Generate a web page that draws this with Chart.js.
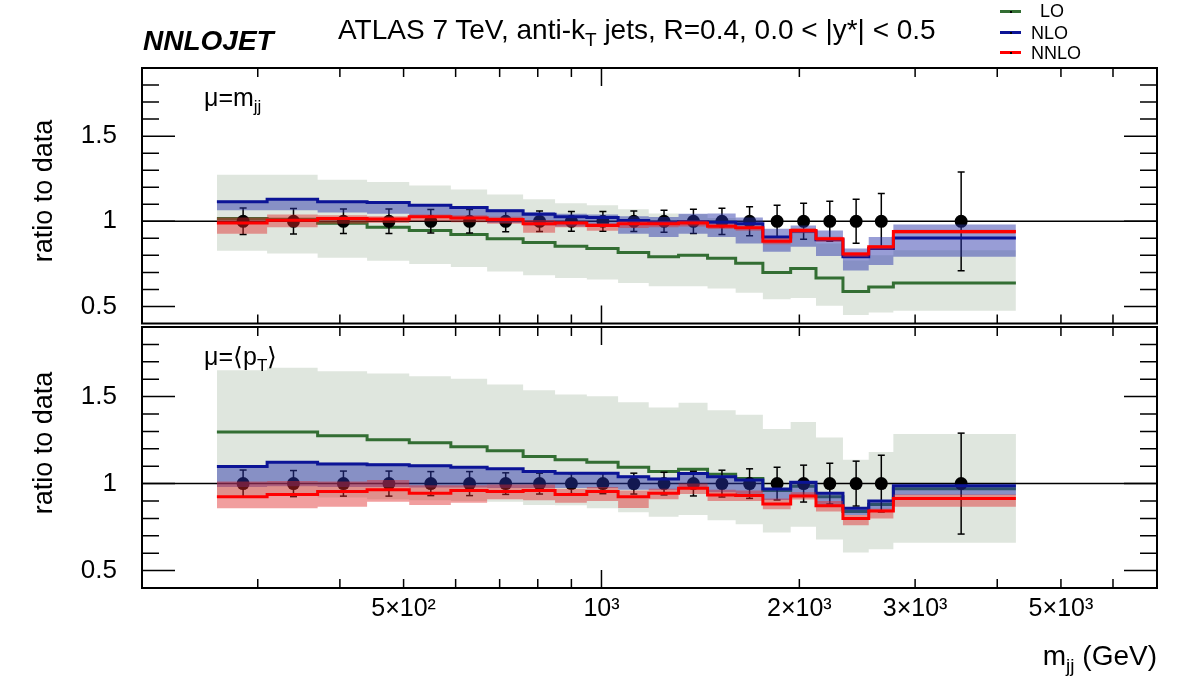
<!DOCTYPE html>
<html>
<head>
<meta charset="UTF-8">
<title>NNLOJET ATLAS 7 TeV dijet mass ratio to data</title>
<script src="https://cdn.jsdelivr.net/npm/chart.js"></script>
<style>
  body { margin: 0; background: #fff; font-family: "Liberation Sans", Arial, sans-serif; }
  #page { position: relative; width: 1182px; height: 692px; overflow: hidden; background: #fff; }
  canvas { position: absolute; left: 0; }
  #cTop { top: 0; }
  #cBot { top: 320px; }
  .txt { position: absolute; line-height: 1; white-space: nowrap; color: #000; z-index: 5; }
  .sub { position: relative; top: 0.38em; font-size: 0.68em; }
  .ytitle { transform: translate(-50%, -50%) rotate(-90deg); font-size: 27px; }
  .leg { position: absolute; left: 1000px; width: 21px; height: 3px; z-index: 5; }
  .leg i { position: absolute; left: 10px; top: 0.5px; width: 2px; height: 2px; background: #000; }
</style>
</head>
<body>
<div id="page">
  <canvas id="cTop" width="1182" height="330"></canvas>
  <canvas id="cBot" width="1182" height="372"></canvas>

  <div class="txt" style="left:143px; top:27px; font-size:28px; font-weight:bold; font-style:italic;">NNLOJET</div>
  <div class="txt" style="left:338px; top:16px; font-size:28px;">ATLAS 7 TeV, anti-k<span class="sub">T</span> jets, R=0.4, 0.0 &lt; |y*| &lt; 0.5</div>

  <div class="leg" style="top:10px; background:#336e33;"><i></i></div>
  <div class="txt" style="left:1040px; top:2px; font-size:18px;">LO</div>
  <div class="leg" style="top:31px; background:#0c1496;"><i></i></div>
  <div class="txt" style="left:1031px; top:24px; font-size:18px;">NLO</div>
  <div class="leg" style="top:51px; background:#ff0000;"><i></i></div>
  <div class="txt" style="left:1031px; top:44px; font-size:18px;">NNLO</div>

  <div class="txt" style="left:204px; top:85px; font-size:25px;">&mu;=m<span class="sub">jj</span></div>
  <div class="txt" style="left:204px; top:344px; font-size:25px;">&mu;=&#10216;p<span class="sub">T</span>&#10217;</div>

  <div class="txt ytitle" style="left:43px; top:191px;">ratio to data</div>
  <div class="txt ytitle" style="left:43px; top:443px;">ratio to data</div>

  <div class="txt" style="right:25px; top:642px; font-size:28px;">m<span class="sub">jj</span> (GeV)</div>
</div>

<script>
  // bin edges in m_jj (GeV)
  const binEdges = [260, 310, 370, 440, 510, 590, 670, 760, 850, 950, 1060, 1180, 1310, 1450, 1600, 1760, 1940, 2120, 2330, 2550, 2780, 4270];
  // data points (ratio = 1) at bin centres
  const dataX = [285, 340, 405, 475, 550, 630, 715, 805, 900, 1005, 1120, 1245, 1380, 1525, 1680, 1850, 2030, 2225, 2440, 2665, 3525];
  const dataErr = [0.078, 0.075, 0.072, 0.072, 0.069, 0.069, 0.062, 0.060, 0.058, 0.058, 0.060, 0.065, 0.071, 0.077, 0.085, 0.094, 0.106, 0.117, 0.129, 0.163, 0.290];

  // upper panel, mu = m_jj
  const loMjj      = [1.017, 1.012, 0.988, 0.965, 0.946, 0.923, 0.898, 0.875, 0.854, 0.840, 0.817, 0.792, 0.800, 0.783, 0.754, 0.700, 0.723, 0.667, 0.588, 0.615, 0.638];
  const loMjjLow   = [0.827, 0.811, 0.786, 0.769, 0.750, 0.731, 0.706, 0.683, 0.667, 0.658, 0.638, 0.619, 0.619, 0.606, 0.581, 0.542, 0.550, 0.504, 0.450, 0.465, 0.475];
  const loMjjHigh  = [1.273, 1.273, 1.244, 1.231, 1.210, 1.187, 1.158, 1.129, 1.106, 1.094, 1.071, 1.046, 1.042, 1.020, 0.980, 0.910, 0.940, 0.870, 0.770, 0.800, 0.830];
  const nloMjj     = [1.115, 1.129, 1.115, 1.110, 1.094, 1.081, 1.062, 1.042, 1.027, 1.023, 1.004, 0.994, 0.998, 0.994, 0.985, 0.908, 0.942, 0.892, 0.792, 0.840, 0.902];
  const nloMjjLow  = [1.065, 1.065, 1.052, 1.045, 1.023, 1.010, 0.990, 0.975, 0.970, 0.970, 0.927, 0.908, 0.927, 0.908, 0.869, 0.821, 0.850, 0.796, 0.711, 0.744, 0.792];
  const nloMjjHigh = [1.120, 1.132, 1.120, 1.113, 1.097, 1.086, 1.070, 1.055, 1.045, 1.040, 1.030, 1.025, 1.045, 1.046, 1.023, 0.956, 0.975, 0.946, 0.840, 0.908, 0.981];
  const nnloMjj     = [0.990, 1.006, 1.017, 1.013, 1.027, 1.019, 1.010, 0.985, 0.990, 0.975, 0.985, 0.985, 0.990, 0.971, 0.962, 0.883, 0.946, 0.898, 0.808, 0.850, 0.940];
  const nnloMjjLow  = [0.927, 0.965, 0.985, 0.990, 1.000, 0.995, 0.985, 0.933, 0.965, 0.945, 0.960, 0.965, 0.970, 0.955, 0.945, 0.865, 0.930, 0.880, 0.790, 0.835, 0.925];
  const nnloMjjHigh = [1.023, 1.040, 1.035, 1.030, 1.040, 1.035, 1.027, 1.008, 1.000, 0.990, 1.000, 1.000, 1.005, 0.985, 0.975, 0.900, 0.960, 0.910, 0.820, 0.860, 0.950];

  // lower panel, mu = <pT>
  const loPt      = [1.296, 1.296, 1.275, 1.252, 1.235, 1.212, 1.189, 1.156, 1.137, 1.123, 1.094, 1.069, 1.083, 1.054, 1.030, 0.960, 0.985, 0.925, 0.840, 0.880, 0.970];
  const loPtLow   = [0.930, 0.930, 0.920, 0.910, 0.905, 0.900, 0.896, 0.877, 0.875, 0.858, 0.835, 0.810, 0.820, 0.790, 0.767, 0.719, 0.752, 0.679, 0.604, 0.623, 0.660];
  const loPtHigh  = [1.652, 1.666, 1.646, 1.633, 1.617, 1.602, 1.569, 1.537, 1.512, 1.502, 1.467, 1.438, 1.464, 1.421, 1.396, 1.314, 1.354, 1.265, 1.137, 1.181, 1.285];
  const nloPt     = [1.098, 1.123, 1.113, 1.108, 1.102, 1.094, 1.085, 1.069, 1.060, 1.060, 1.040, 1.027, 1.058, 1.040, 1.021, 0.969, 1.008, 0.944, 0.858, 0.900, 0.987];
  const nloPtLow  = [0.980, 0.985, 0.980, 0.980, 0.978, 0.978, 0.975, 0.975, 0.975, 0.975, 0.965, 0.965, 0.975, 0.950, 0.940, 0.906, 0.930, 0.875, 0.819, 0.850, 0.935];
  const nloPtHigh = [1.105, 1.130, 1.120, 1.115, 1.108, 1.100, 1.090, 1.075, 1.066, 1.066, 1.046, 1.033, 1.064, 1.046, 1.027, 0.975, 1.014, 0.950, 0.864, 0.906, 0.993];
  const nnloPt     = [0.925, 0.938, 0.954, 0.965, 0.944, 0.960, 0.954, 0.960, 0.938, 0.954, 0.925, 0.944, 0.973, 0.935, 0.931, 0.883, 0.929, 0.873, 0.800, 0.842, 0.915];
  const nnloPtLow  = [0.858, 0.858, 0.867, 0.896, 0.877, 0.890, 0.910, 0.905, 0.890, 0.900, 0.860, 0.910, 0.940, 0.900, 0.900, 0.852, 0.908, 0.840, 0.761, 0.800, 0.867];
  const nnloPtHigh = [1.012, 1.015, 1.012, 1.020, 0.990, 0.990, 0.995, 0.995, 0.970, 0.980, 0.960, 0.970, 1.000, 0.965, 0.960, 0.915, 0.950, 0.900, 0.819, 0.855, 0.937];

  // axes
  const xMin = 200, xMax = 7000, yMin = 0.4, yMax = 1.9;
  const xTickValues = [500, 1000, 2000, 3000, 5000];
  const xTickLabels = ['5×10²', '10³', '2×10³', '3×10³', '5×10³'];
  const xMinorTicks = [300, 400, 500, 600, 700, 800, 900, 2000, 3000, 4000, 5000, 6000];
  const xMajorTicks = [1000];
  const yTickValues = [0.5, 1, 1.5];
  const yAllTicks = [0.5, 0.6, 0.7, 0.8, 0.9, 1, 1.1, 1.2, 1.3, 1.4, 1.5, 1.6, 1.7, 1.8];

  const LO_COLOR = '#336e33', NLO_COLOR = '#0c1496', NNLO_COLOR = '#ff0000';
  const LO_BAND = '#dfe6de', NLO_BAND = 'rgba(40,50,170,0.48)', NNLO_BAND = 'rgba(225,40,40,0.45)';

  Chart.defaults.font.family = '"Liberation Sans", Arial, sans-serif';
  Chart.defaults.color = '#000';

  // histogram as stepped line: left edges + last right edge
  function steps(vals) {
    const pts = vals.map((v, i) => ({ x: binEdges[i], y: v }));
    pts.push({ x: binEdges[binEdges.length - 1], y: vals[vals.length - 1] });
    return pts;
  }

  function errorBars() {
    const pts = [];
    dataX.forEach((x, i) => {
      pts.push({ x: x, y: 1 - dataErr[i] }, { x: x, y: 1 + dataErr[i] }, { x: x, y: null });
    });
    return pts;
  }

  function histLine(vals, color, order) {
    return { data: steps(vals), borderColor: color, borderWidth: 3, stepped: true, pointRadius: 0, order: order,
             borderJoinStyle: 'miter', borderCapStyle: 'butt', fill: false };
  }
  function band(hi, lo, color, order) {
    return [
      { data: steps(hi), stepped: true, borderWidth: 0, pointRadius: 0, fill: '+1', backgroundColor: color, order: order },
      { data: steps(lo), stepped: true, borderWidth: 0, pointRadius: 0, fill: false, order: order }
    ];
  }

  function panelDatasets(p) {
    return [
      ...band(p.loHigh, p.loLow, LO_BAND, 10),
      { data: [{ x: xMin, y: 1 }, { x: xMax, y: 1 }], borderColor: '#000', borderWidth: 1.5, pointRadius: 0, order: 9 },
      histLine(p.lo, LO_COLOR, 8),
      { data: errorBars(), borderColor: '#000', borderWidth: 1.5, pointStyle: 'line', pointRadius: 3.5,
        pointBorderColor: '#000', pointBorderWidth: 1.5, order: 7 },
      { data: dataX.map(x => ({ x: x, y: 1 })), showLine: false, pointRadius: 6.5, pointBackgroundColor: '#000',
        pointBorderWidth: 0, order: 6 },
      ...band(p.nloHigh, p.nloLow, NLO_BAND, 5),
      histLine(p.nlo, NLO_COLOR, 4),
      ...band(p.nnloHigh, p.nnloLow, NNLO_BAND, 3),
      histLine(p.nnlo, NNLO_COLOR, 2)
    ];
  }

  // ROOT style frame with inward ticks on all sides
  const frameTicks = {
    id: 'frameTicks',
    afterDatasetsDraw(chart) {
      const { ctx, chartArea: a } = chart;
      const x = chart.scales.x, y = chart.scales.y;
      ctx.save();
      ctx.strokeStyle = '#000';
      ctx.lineWidth = 1.5;
      ctx.beginPath();
      yAllTicks.forEach(v => {
        const py = y.getPixelForValue(v);
        const len = yTickValues.includes(v) ? 33 : 17;
        ctx.moveTo(a.left, py); ctx.lineTo(a.left + len, py);
        ctx.moveTo(a.right, py); ctx.lineTo(a.right - len, py);
      });
      xMinorTicks.concat(xMajorTicks).forEach(v => {
        const px = x.getPixelForValue(v);
        const len = xMajorTicks.includes(v) ? 18 : 9;
        ctx.moveTo(px, a.top); ctx.lineTo(px, a.top + len);
        ctx.moveTo(px, a.bottom); ctx.lineTo(px, a.bottom - len);
      });
      ctx.stroke();
      ctx.lineWidth = 2;
      ctx.strokeRect(a.left, a.top, a.right - a.left, a.bottom - a.top);
      ctx.restore();
    }
  };

  function makeChart(id, p, isBottom) {
    return new Chart(document.getElementById(id), {
      type: 'line',
      data: { datasets: panelDatasets(p) },
      options: {
        responsive: false,
        animation: false,
        devicePixelRatio: 1,
        events: [],
        layout: { padding: isBottom ? { top: 7, right: 25, bottom: 0, left: 0 } : { top: 68, right: 25, bottom: 3, left: 0 } },
        plugins: { legend: { display: false }, tooltip: { enabled: false } },
        scales: {
          x: {
            type: 'logarithmic', min: xMin, max: xMax, bounds: 'data', display: isBottom,
            grid: { display: false, drawTicks: false }, border: { display: false },
            afterBuildTicks: s => { s.ticks = xTickValues.map(v => ({ value: v })); },
            afterFit: s => {
              if (isBottom) s.height = 104;
              s.paddingLeft = 0; s.paddingRight = 0;
            },
            ticks: { autoSkip: false, maxRotation: 0, padding: 6, font: { size: 25 },
                     callback: (v, i) => xTickLabels[i] }
          },
          y: {
            min: yMin, max: yMax, bounds: 'data',
            grid: { display: false, drawTicks: false }, border: { display: false },
            afterBuildTicks: s => { s.ticks = yTickValues.map(v => ({ value: v })); },
            afterFit: s => { s.width = 142; s.paddingTop = 0; s.paddingBottom = 0; },
            ticks: { padding: 25, font: { size: 26 }, callback: v => String(v) }
          }
        }
      },
      plugins: [frameTicks]
    });
  }

  makeChart('cTop', {
    lo: loMjj, loLow: loMjjLow, loHigh: loMjjHigh,
    nlo: nloMjj, nloLow: nloMjjLow, nloHigh: nloMjjHigh,
    nnlo: nnloMjj, nnloLow: nnloMjjLow, nnloHigh: nnloMjjHigh
  }, false);

  makeChart('cBot', {
    lo: loPt, loLow: loPtLow, loHigh: loPtHigh,
    nlo: nloPt, nloLow: nloPtLow, nloHigh: nloPtHigh,
    nnlo: nnloPt, nnloLow: nnloPtLow, nnloHigh: nnloPtHigh
  }, true);
</script>
</body>
</html>
